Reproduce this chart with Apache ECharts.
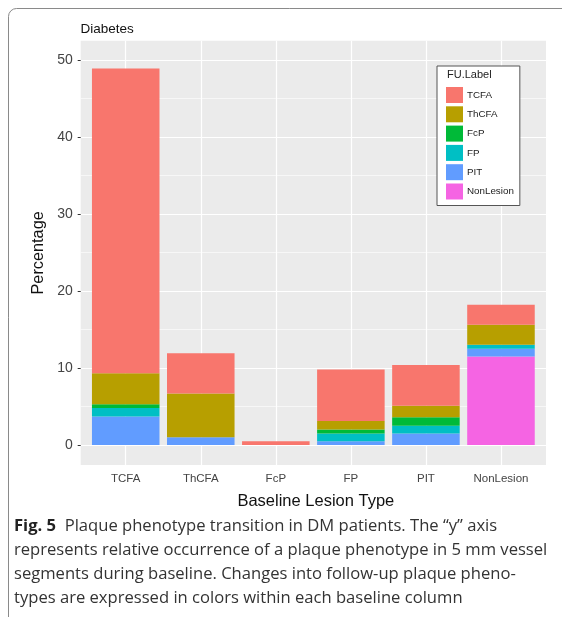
<!DOCTYPE html>
<html>
<head>
<meta charset="utf-8">
<script src="https://cdn.jsdelivr.net/npm/echarts@6/dist/echarts.min.js"></script>
<style>
html,body{margin:0;padding:0;background:#fff;}
#chart{width:562px;height:617px;}
</style>
</head>
<body>
<div id="chart"></div>
<script>
// Baseline lesion types (x categories)
var categories = ['TCFA', 'ThCFA', 'FcP', 'FP', 'PIT', 'NonLesion'];
// Follow-up label values (percentage) per baseline category
var tcfa      = [39.6, 5.2, 0.5, 6.7, 5.3, 2.6];
var thcfa     = [4.0, 5.7, 0, 1.1, 1.5, 2.6];
var fcp       = [0.5, 0, 0, 0.5, 1.1, 0];
var fp        = [1.1, 0, 0, 1.0, 1.0, 0.5];
var pit       = [3.7, 1.0, 0, 0.5, 1.5, 1.0];
var nonLesion = [0, 0, 0, 0, 0, 11.5];
// Tick labels
var yTicks = [0, 10, 20, 30, 40, 50];
var yMinorTicks = [5, 15, 25, 35, 45];
var legendOrder = ['TCFA', 'ThCFA', 'FcP', 'FP', 'PIT', 'NonLesion'];

var colors = {
  TCFA: '#F8766D', ThCFA: '#B79F00', FcP: '#00BA38',
  FP: '#00BFC4', PIT: '#619CFF', NonLesion: '#F564E3'
};
// stacking order bottom -> top
var stackSeries = [
  ['NonLesion', nonLesion], ['PIT', pit], ['FP', fp],
  ['FcP', fcp], ['ThCFA', thcfa], ['TCFA', tcfa]
];

var Y_MIN = -2.6, Y_MAX = 52.5;
var FONT = 'Liberation Sans, Arial, sans-serif';
var CAP_FONT = '"Open Sans", "Liberation Sans", sans-serif';
var CAP_SIZE = 16.6;
var chart = echarts.init(document.getElementById('chart'), null, {renderer: 'canvas'});

var series = stackSeries.map(function (s, i) {
  var o = {
    name: s[0], type: 'bar', stack: 'total',
    xAxisIndex: 1, yAxisIndex: 2,
    barCategoryGap: '10%',
    itemStyle: {color: colors[s[0]]},
    emphasis: {disabled: true},
    data: s[1]
  };
  if (i === 0) {
    o.markLine = {
      silent: true, symbol: 'none', z: 1,
      label: {show: false},
      lineStyle: {color: '#ffffff', width: 1.2, type: 'solid'},
      data: categories.map(function (c) { return {xAxis: c}; })
    };
  }
  return o;
});

var option = {
  animation: false,
  backgroundColor: '#ffffff',
  textStyle: {fontFamily: FONT},
  title: {
    text: 'Diabetes', left: 80.5, top: 22, padding: 0,
    textStyle: {fontSize: 13.5, fontWeight: 'normal', color: '#111'}
  },
  grid: [
    {left: 80.7, right: 16, top: 40.7, bottom: 152, show: true,
     backgroundColor: '#EBEBEB', borderWidth: 0},
    {left: 88.2, right: 23.5, top: 40.7, bottom: 152, show: false}
  ],
  xAxis: [
    {gridIndex: 0, type: 'value', min: 0, max: 1, show: false},
    {gridIndex: 1, type: 'category', data: categories,
     name: 'Baseline Lesion Type', nameLocation: 'middle', nameGap: 28,
     nameTextStyle: {fontSize: 16.5, color: '#111', padding: [0, 0, 0, 5]},
     axisLine: {show: false},
     axisTick: {show: true, alignWithLabel: true, length: 3, lineStyle: {color: '#333'}},
     axisLabel: {fontSize: 11.5, color: '#444', margin: 8},
     splitLine: {show: false}}
  ],
  yAxis: [
    {gridIndex: 0, type: 'value', min: Y_MIN, max: Y_MAX,
     name: 'Percentage', nameLocation: 'middle', nameGap: 34, nameRotate: 90,
     nameTextStyle: {fontSize: 16.3, color: '#111'},
     axisLine: {show: false},
     axisTick: {show: true, length: 3, customValues: yTicks, lineStyle: {color: '#333'}},
     axisLabel: {fontSize: 14, color: '#444', margin: 8, customValues: yTicks},
     splitLine: {show: true, lineStyle: {color: '#ffffff', width: 1.2}}},
    {gridIndex: 0, type: 'value', min: Y_MIN, max: Y_MAX, position: 'right',
     axisLine: {show: false},
     axisTick: {show: false, customValues: yMinorTicks},
     axisLabel: {show: false, customValues: yMinorTicks},
     splitLine: {show: true, lineStyle: {color: '#ffffff', width: 0.6}}},
    {gridIndex: 1, type: 'value', min: Y_MIN, max: Y_MAX, show: false,
     splitLine: {show: false}}
  ],
  legend: {
    data: legendOrder, orient: 'vertical', left: 437, top: 66,
    padding: [21, 6, 6, 9],
    backgroundColor: '#ffffff', borderColor: '#555', borderWidth: 1,
    itemWidth: 17, itemHeight: 16, itemGap: 3.3, icon: 'rect',
    selectedMode: false,
    textStyle: {fontSize: 9.8, color: '#222', padding: [0, 0, 0, -1]}
  },
  series: series,
  graphic: [
    {type: 'rect', silent: true, z: -10,
     shape: {x: 8.5, y: 8.5, width: 620, height: 640, r: 8},
     style: {fill: 'none', stroke: '#8a8a8a', lineWidth: 1}},
    {type: 'text', left: 447, top: 69, z: 100, silent: true,
     style: {text: 'FU.Label', fontSize: 11, fill: '#222', fontFamily: FONT}},
    {type: 'text', left: 14, top: 518, silent: true,
     style: {
       text: '{b|Fig. 5}  Plaque phenotype transition in DM patients. The \u201cy\u201d axis',
       fontSize: CAP_SIZE, fill: '#333', fontFamily: CAP_FONT,
       rich: {b: {fontWeight: 'bold', fontSize: CAP_SIZE, fill: '#222', fontFamily: CAP_FONT}}
     }},
    {type: 'text', left: 14, top: 542, silent: true,
     style: {text: 'represents relative occurrence of a plaque phenotype in 5 mm vessel',
       fontSize: CAP_SIZE, fill: '#333', fontFamily: CAP_FONT}},
    {type: 'text', left: 14, top: 566, silent: true,
     style: {text: 'segments during baseline. Changes into follow-up plaque pheno-',
       fontSize: CAP_SIZE, fill: '#333', fontFamily: CAP_FONT}},
    {type: 'text', left: 14, top: 590, silent: true,
     style: {text: 'types are expressed in colors within each baseline column',
       fontSize: CAP_SIZE, fill: '#333', fontFamily: CAP_FONT}}
  ]
};
chart.setOption(option);
</script>
</body>
</html>
